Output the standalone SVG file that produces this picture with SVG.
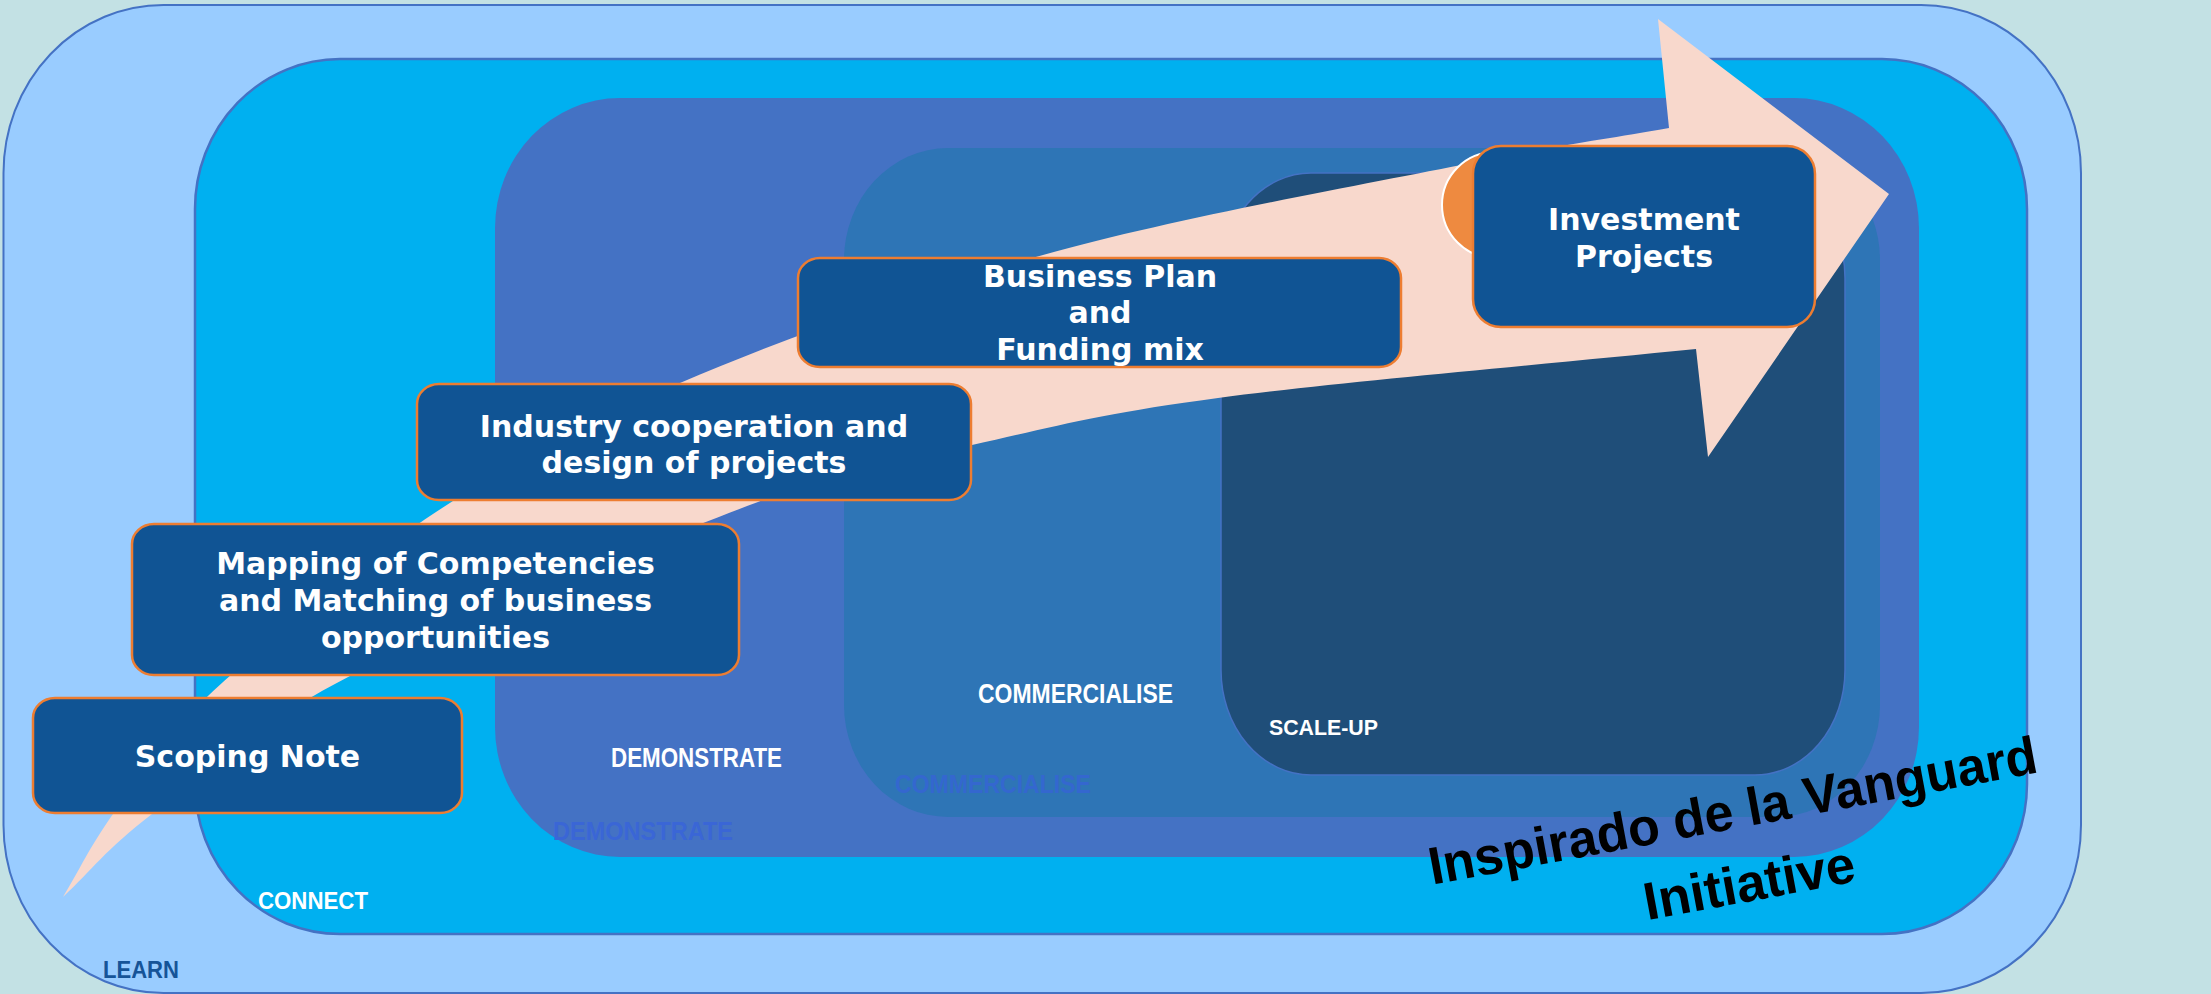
<svg xmlns="http://www.w3.org/2000/svg" width="2211" height="994" viewBox="0 0 2211 994">
<style>
.box{fill:#105494;stroke:#ED7D31;stroke-width:2.5}
.bt{font-family:"DejaVu Sans","Verdana",sans-serif;font-weight:bold;font-size:30px;fill:#FFFFFF;text-anchor:middle}
.lbl{font-family:"Liberation Sans","Arial",sans-serif;font-weight:bold}
</style>
<rect x="0" y="0" width="2211" height="994" fill="#C3E1E4"/>
<g id="stage-learn">
<rect x="3.5" y="5" width="2077.5" height="988" rx="160" ry="168" fill="#99CCFF" stroke="#4472C4" stroke-width="2"/>
<text class="lbl" x="103" y="978" font-size="23" fill="#165498" textLength="76" lengthAdjust="spacingAndGlyphs">LEARN</text>
</g>
<g id="stage-connect">
<rect x="195" y="59" width="1832" height="875" rx="145" ry="150" fill="#00B0F0" stroke="#4472C4" stroke-width="2.5"/>
<text class="lbl" x="258" y="909" font-size="24" fill="#FFFFFF" textLength="110" lengthAdjust="spacingAndGlyphs">CONNECT</text>
</g>
<g id="stage-demonstrate">
<rect x="495" y="98" width="1424" height="759" rx="125" ry="130" fill="#4472C4"/>
<text class="lbl" x="611" y="767" font-size="27" fill="#FFFFFF" textLength="171" lengthAdjust="spacingAndGlyphs">DEMONSTRATE</text>
<text class="lbl" x="553" y="840" font-size="25" fill="#3A66D6" textLength="180" lengthAdjust="spacingAndGlyphs">DEMONSTRATE</text>
</g>
<g id="stage-commercialise">
<rect x="844" y="148" width="1036" height="669" rx="104" ry="112" fill="#2E75B6"/>
<text class="lbl" x="978" y="703" font-size="27" fill="#FFFFFF" textLength="195" lengthAdjust="spacingAndGlyphs">COMMERCIALISE</text>
<text class="lbl" x="895" y="793" font-size="25" fill="#3467CF" textLength="196" lengthAdjust="spacingAndGlyphs">COMMERCIALISE</text>
</g>
<g id="stage-scaleup">
<rect x="1221" y="173" width="624" height="602" rx="90" ry="105" fill="#1F4E79" stroke="#4472C4" stroke-width="1.5"/>
<text class="lbl" x="1269" y="735" font-size="22" fill="#FFFFFF" textLength="109" lengthAdjust="spacingAndGlyphs">SCALE-UP</text>
</g>
<g id="connectors">
<path d="M63,897 C80,869 89,848 113,814 C137,781 154,746 208,696 C262,646 357,564 436,512 C515,460 579,426 680,383 C781,340 911,292 1043,255 C1175,218 1367,184 1471,163 C1575,142 1603,140 1669,128 L1658,19 L1889,194 L1708,457 L1696,349 C1537,365 1339,382 1218,398 C1097,414 1049,428 972,445 C895,462 862,464 758,502 C654,541 451,624 350,676 C249,728 200,777 152,814 C104,851 93,869 63,897 Z" fill="#F8D8CC"/>
</g>
<g id="node-scoping">
<rect class="box" x="33" y="698" width="429" height="115" rx="22" ry="20"/>
<text class="bt" x="247.5" y="767">Scoping Note</text>
</g>
<g id="node-mapping">
<rect class="box" x="132" y="524" width="607" height="151" rx="22" ry="20"/>
<text class="bt" x="435.5" y="574">Mapping of Competencies</text>
<text class="bt" x="435.5" y="611">and Matching of business</text>
<text class="bt" x="435.5" y="648">opportunities</text>
</g>
<g id="node-industry">
<rect class="box" x="417" y="384" width="554" height="116" rx="22" ry="20"/>
<text class="bt" x="694" y="437">Industry cooperation and</text>
<text class="bt" x="694" y="473">design of projects</text>
</g>
<g id="node-business">
<rect class="box" x="798" y="258" width="603" height="109" rx="22" ry="20"/>
<text class="bt" x="1100" y="287">Business Plan</text>
<text class="bt" x="1100" y="323">and</text>
<text class="bt" x="1100" y="360">Funding mix</text>
</g>
<g id="node-investment">
<circle cx="1495" cy="205" r="53" fill="#EE8A40" stroke="#FFFFFF" stroke-width="2"/>
<rect class="box" x="1473" y="146" width="342" height="181" rx="28" ry="28"/>
<text class="bt" x="1644" y="230">Investment</text>
<text class="bt" x="1644" y="267">Projects</text>
</g>
<g id="caption" transform="translate(1736,828.5) rotate(-10.5)">
<text class="lbl" x="0" y="0" font-size="53" fill="#000000" text-anchor="middle" textLength="618" lengthAdjust="spacingAndGlyphs">Inspirado de la Vanguard</text>
<text class="lbl" x="3" y="74" font-size="53" fill="#000000" text-anchor="middle" textLength="214" lengthAdjust="spacingAndGlyphs">Initiative</text>
</g>
</svg>
